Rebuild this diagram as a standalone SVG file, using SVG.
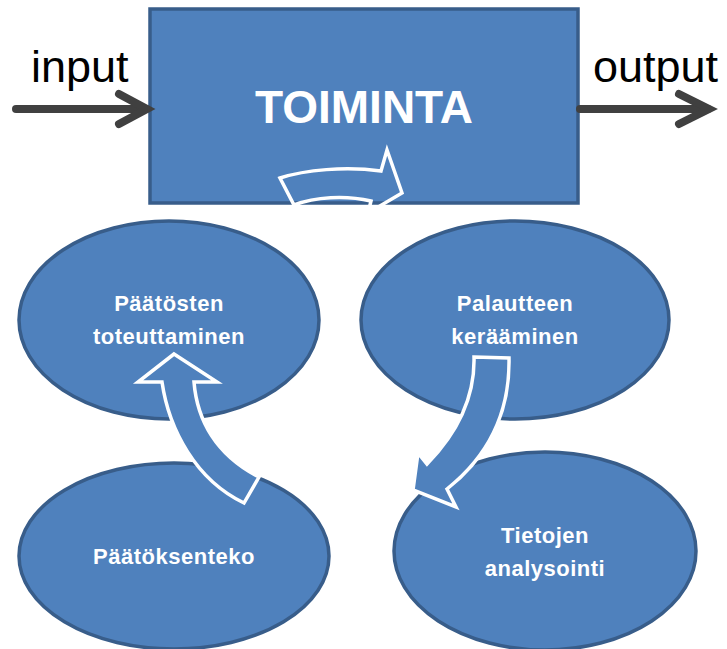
<svg xmlns="http://www.w3.org/2000/svg" width="727" height="649" viewBox="0 0 727 649">
  <style>
    .shape { fill: #4f81bd; stroke: #385d8a; stroke-width: 3.5; }
    .io { fill: none; stroke: #404040; stroke-width: 8; stroke-linecap: round; }
    .flow { fill: #4f81bd; stroke: #ffffff; stroke-width: 3.5; stroke-linejoin: miter; }
    .label { font-family: "Liberation Sans", Arial, sans-serif; font-weight: bold; font-size: 22px; fill: #ffffff; text-anchor: middle; letter-spacing: 0.5px; }
    .io-text { font-family: "Liberation Sans", Arial, sans-serif; font-size: 45px; fill: #000000; }
  </style>
  <defs>
    <clipPath id="boxInner">
      <rect x="150" y="9" width="428" height="192"/>
    </clipPath>
  </defs>
  <rect width="727" height="649" fill="#ffffff"/>

  <!-- main activity box with its internal loop arrow -->
  <g id="toiminta">
    <rect x="150" y="9" width="428" height="194" fill="#4f81bd"/>
    <path clip-path="url(#boxInner)" fill="#4f81bd" d="M280,178 C305,170 345,166 381,171 L387,150 L402,193 L368,213 L371,201 C345,195 315,197 294,205 Z"/>
    <rect x="150" y="9" width="428" height="194" fill="none" stroke="#385d8a" stroke-width="3.5"/>
    <path fill="none" stroke="#ffffff" stroke-width="3.5" d="M280,178 C305,170 345,166 381,171 L387,150 L402,193 L368,213 L371,201 C345,195 315,197 294,205 Z"/>
    <text x="364" y="123" text-anchor="middle" font-family="'Liberation Sans', Arial, sans-serif" font-weight="bold" font-size="46" fill="#ffffff">TOIMINTA</text>
  </g>

  <g id="paatosten-toteuttaminen">
    <ellipse class="shape" cx="169" cy="320" rx="150" ry="99"/>
    <text class="label" x="169" y="311">Päätösten</text>
    <text class="label" x="169" y="344">toteuttaminen</text>
  </g>

  <g id="palautteen-keraaminen">
    <ellipse class="shape" cx="515" cy="320" rx="154" ry="99"/>
    <text class="label" x="515" y="311">Palautteen</text>
    <text class="label" x="515" y="344">kerääminen</text>
  </g>

  <g id="paatoksenteko">
    <ellipse class="shape" cx="174" cy="556" rx="155" ry="93"/>
    <text class="label" x="174" y="564">Päätöksenteko</text>
  </g>

  <g id="tietojen-analysointi">
    <ellipse class="shape" cx="545" cy="551" rx="151" ry="99"/>
    <text class="label" x="545" y="543">Tietojen</text>
    <text class="label" x="545" y="576">analysointi</text>
  </g>

  <g id="connectors">
    <!-- input / output -->
    <line class="io" x1="16" y1="109" x2="146" y2="109"/>
    <polyline class="io" points="119,94 147,109 119,124" stroke-linejoin="miter"/>
    <line class="io" x1="580" y1="109" x2="708" y2="109"/>
    <polyline class="io" points="679,94 709,109 679,124" stroke-linejoin="miter"/>
    <text class="io-text" x="31" y="82">input</text>
    <text class="io-text" x="593" y="82">output</text>

    <!-- cycle arrows between the stages -->
    <path class="flow" d="M174,354 L217,382 L194,382 C197,420 216,455 259,477 L244,503 C196,480 169,430 162,382 L138,382 Z"/>
    <path class="flow" d="M474,357 L509,358 C510,410 490,455 447,489 L456,507 L413,490 L418,453 L427,464 C460,430 475,395 474,357 Z"/>
  </g>
</svg>
